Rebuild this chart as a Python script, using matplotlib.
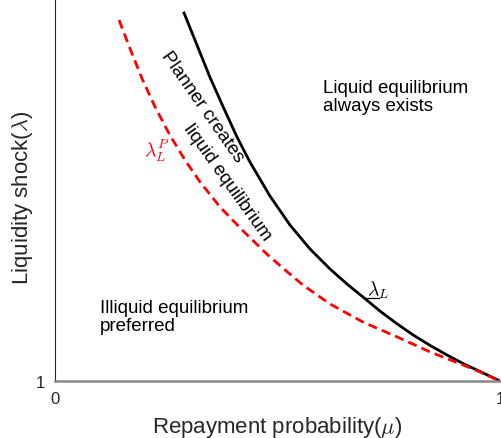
import matplotlib
matplotlib.use('Agg')
import matplotlib.pyplot as plt

plt.rcParams['font.family'] = ['Liberation Sans', 'DejaVu Sans']
plt.rcParams['mathtext.fontset'] = 'cm'

# values
# black solid curve (underlined lambda_L)
mu_black = [0.290, 0.319, 0.348, 0.378, 0.409, 0.438, 0.483, 0.528, 0.573,
            0.618, 0.656, 0.692, 0.730, 0.769, 0.805, 0.843, 0.881, 0.917, 0.955, 1.0]
lam_black = [3.890, 3.639, 3.387, 3.152, 2.916, 2.720, 2.453, 2.225, 2.037,
             1.880, 1.762, 1.660, 1.550, 1.448, 1.361, 1.279, 1.204, 1.137, 1.075, 1.0]

# red dashed curve (lambda_L^P)
mu_red = [0.144, 0.169, 0.196, 0.225, 0.258, 0.292, 0.326, 0.371, 0.423, 0.476,
          0.512, 0.557, 0.618, 0.692, 0.769, 0.843, 0.917, 0.955, 1.0]
lam_red = [3.835, 3.607, 3.372, 3.152, 2.932, 2.736, 2.563, 2.366, 2.178, 1.997,
           1.887, 1.754, 1.605, 1.463, 1.346, 1.228, 1.126, 1.071, 1.0]

fig = plt.figure(figsize=(5.01, 4.39), dpi=100)
ax = fig.add_axes([55/501, (439-382)/439, 445/501, 382/439])

ax.plot(mu_black, lam_black, color='black', lw=2.0, solid_joinstyle='round')
ax.plot(mu_red, lam_red, color='red', lw=2.0, ls=(0, (3.3, 1.9)))

ax.set_xlim(0, 1)
ax.set_ylim(1, 4)
ax.set_xticks([0, 1])
ax.set_yticks([1])
ax.tick_params(length=0, labelsize=12, colors='#262626', pad=7)
for s in ['top', 'right']:
    ax.spines[s].set_visible(False)
ax.spines['left'].set_color('#262626')
ax.spines['left'].set_linewidth(0.8)
ax.spines['bottom'].set_color('#888888')
ax.spines['bottom'].set_linewidth(1.8)

ax.set_xlabel(r'Repayment probability($\mu$)', fontsize=16, color='#262626')
ax.set_ylabel(r'Liquidity shock($\lambda$)', fontsize=16, color='#262626')
ax.xaxis.set_label_coords(0.5, -0.087)
ax.yaxis.set_label_coords(-0.045, 0.482)

fs = 13.5
ax.text(0.602, 3.372, 'Liquid equilibrium\nalways exists', fontsize=fs, va='top', ha='left',
        linespacing=1.07)
ax.text(0.101, 1.644, 'Illiquid equilibrium\npreferred', fontsize=fs, va='top', ha='left',
        linespacing=1.07)
ax.text(0.330, 3.160, 'Planner creates', fontsize=fs, rotation=-55, ha='center', va='center',
        rotation_mode='anchor')
ax.text(0.388, 2.563, 'liquid equilibrium', fontsize=fs, rotation=-54.5, ha='center', va='center',
        rotation_mode='anchor')
ax.text(0.230, 2.818, r'$\lambda_L^P$', fontsize=14, color='red', ha='center', va='center')

# underlined lambda_L label
ax.text(0.701, 1.675, r'$\lambda_L$', fontsize=14, color='black', ha='left', va='baseline')
ax.plot([0.699, 0.728], [1.652, 1.652], color='black', lw=0.9)

fig.savefig('out.png', dpi=100)
